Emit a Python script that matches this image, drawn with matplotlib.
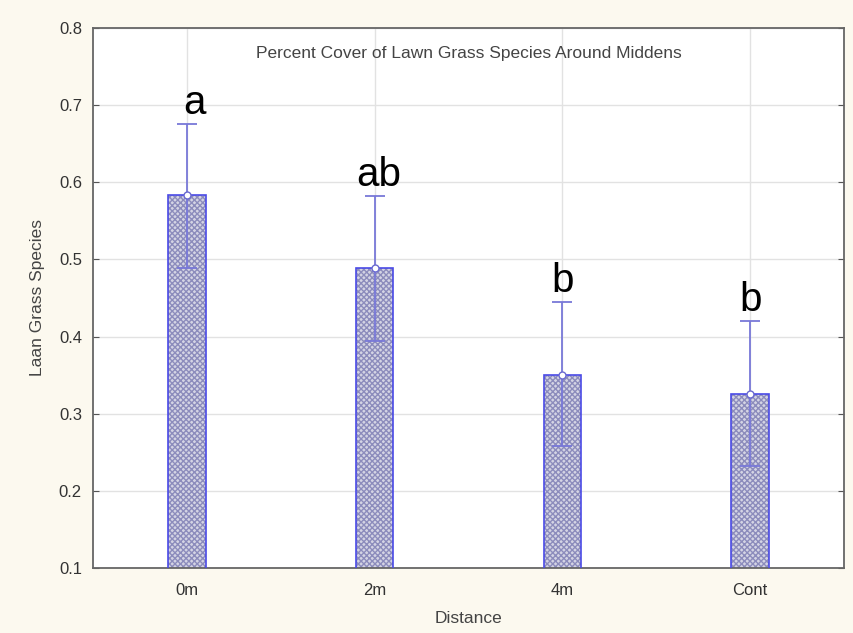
import numpy as np
import matplotlib
matplotlib.use("Agg")
import matplotlib.pyplot as plt

# data
distances = ["0m", "2m", "4m", "Cont"]
means = [0.583, 0.489, 0.350, 0.325]
upper = [0.675, 0.582, 0.445, 0.420]
lower = [0.489, 0.394, 0.258, 0.232]
letters = ["a", "ab", "b", "b"]
letter_shift = [0.04, 0.02, 0.0, 0.0]

plt.rcParams['font.family'] = ['Liberation Sans', 'DejaVu Sans']

x = np.arange(len(distances))
err = [np.array(means) - np.array(lower), np.array(upper) - np.array(means)]

fig = plt.figure(figsize=(8.54, 6.33), dpi=100, facecolor='#fcf9ef')
ax = fig.add_axes([0.1089, 0.1027, 0.8794, 0.8531])
ax.set_facecolor('white')

# hatched fill, then the blue outline on top
ax.bar(x, means, width=0.2, color='#d4d4e4', edgecolor='#8c8cbc',
       hatch='xxxxxx', linewidth=0, zorder=2)
ax.bar(x, means, width=0.2, fill=False, edgecolor='#4a4ae6',
       linewidth=1.2, zorder=3)

ax.errorbar(x, means, yerr=err, fmt='o', color='#7878d8', ecolor='#7878d8',
            elinewidth=1.3, capsize=7, capthick=1.3, markersize=5,
            markerfacecolor='white', markeredgecolor='#6a6ad0', zorder=4)

for xi, up, lab, dx in zip(x, upper, letters, letter_shift):
    ax.text(xi + dx, up + 0.013, lab, fontsize=29, ha='center',
            va='baseline', color='black', zorder=5)

ax.text(0.5, 0.952, "Percent Cover of Lawn Grass Species Around Middens",
        transform=ax.transAxes, ha='center', va='center', fontsize=12.5,
        color='#444444')

ax.set_xlim(-0.5, 3.5)
ax.set_ylim(0.1, 0.8)
ax.set_xticks(x)
ax.set_xticklabels(distances)
ax.set_yticks(np.arange(0.1, 0.81, 0.1))
ax.set_yticklabels(["%.1f" % v for v in np.arange(0.1, 0.81, 0.1)])
ax.tick_params(direction='in', length=4, right=True, colors='#555555',
               labelcolor='#333333', labelsize=12, pad=8)
ax.tick_params(axis='x', length=0, pad=11)
ax.grid(True, color='#e2e2e2', linewidth=1.0, zorder=0)
ax.set_axisbelow(True)
for s in ax.spines.values():
    s.set_color('#666666')
    s.set_linewidth(1.3)

ax.set_xlabel("Distance", fontsize=12.5, color='#444444', labelpad=9)
ax.set_ylabel("Laan Grass Species", fontsize=12.5, color='#444444', labelpad=10)

fig.savefig("out.png", dpi=100, facecolor=fig.get_facecolor())
